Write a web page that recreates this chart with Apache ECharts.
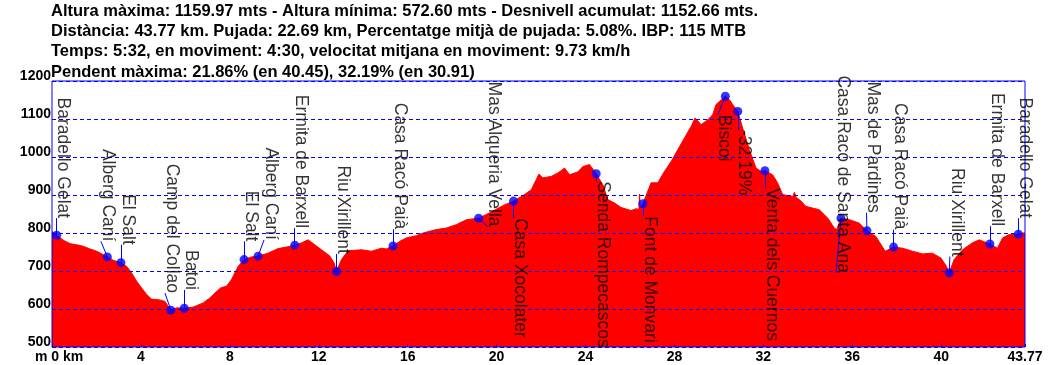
<!DOCTYPE html>
<html><head><meta charset="utf-8">
<script src="https://cdn.jsdelivr.net/npm/echarts@6/dist/echarts.min.js"></script>
<style>html,body{margin:0;padding:0;background:#fff}#c{width:1050px;height:365px}</style>
</head><body><div id="c"></div>
<script>
const headerLines = [
  "Altura màxima: 1159.97 mts - Altura mínima: 572.60 mts - Desnivell acumulat: 1152.66 mts.",
  "Distància: 43.77 km. Pujada: 22.69 km, Percentatge mitjà de pujada: 5.08%. IBP: 115 MTB",
  "Temps: 5:32, en moviment: 4:30, velocitat mitjana en moviment: 9.73 km/h",
  "Pendent màxima: 21.86% (en 40.45), 32.19% (en 30.91)"
];
const dist = [0,0.1,0.21,0.51,0.81,1.11,1.41,1.71,2.01,2.31,2.49,2.76,3.1,3.36,3.58,3.81,4.03,4.26,4.48,4.85,5.08,5.23,5.35,5.6,5.95,6.35,6.8,7.1,7.4,7.6,7.85,8.07,8.37,8.64,8.97,9.27,9.72,10.17,10.55,10.92,11.22,11.52,11.82,12.12,12.49,12.69,12.8,13.02,13.32,13.92,14.37,14.82,15.04,15.34,15.64,15.94,16.39,16.69,17.29,17.74,18.19,18.64,19.19,19.69,20.28,20.76,21.18,21.56,21.78,21.9,22.08,22.46,22.76,23.06,23.28,23.66,23.88,24.18,24.4,24.48,24.78,25.0,25.3,25.6,26.05,26.28,26.4,26.43,26.46,26.58,26.95,27.25,27.55,27.85,28.15,28.45,28.75,28.93,29.2,29.5,29.72,29.87,30.1,30.29,30.47,30.62,30.85,31.07,31.37,31.67,31.9,32.07,32.42,32.64,32.87,33.32,33.4,33.48,33.62,33.92,34.52,34.9,35.19,35.3,35.49,35.87,36.31,36.66,37.06,37.2,37.48,37.86,38.26,38.71,39.16,39.6,39.99,40.24,40.36,40.58,40.96,41.4,41.71,42.19,42.53,42.76,43.06,43.47,43.65,43.77];
const elev = [804,800,794,781,772,769,765,758,752,743,737,728,722,712,695,673,655,638,626,624,620,607,597,603,602,605,616,629,646,656,660,677,712,730,737,739,747,759,763,768,774,782,769,756,740,721,699,730,753,756,752,760,758,766,778,787,793,800,809,813,822,835,839,853,872,884,898,914,940,955,945,949,958,971,953,961,975,980,963,956,927,888,879,867,859,864,862,902,866,877,932,932,962,988,1019,1050,1080,1103,1085,1098,1111,1138,1150,1160,1151,1138,1120,1076,1019,971,962,964,953,932,901,896,907,893,888,870,861,839,813,809,839,835,826,806,791,778,752,763,760,752,745,747,734,712,695,730,756,774,782,771,760,787,796,797,800,800];
const xTicks = [0,4,8,12,16,20,24,28,32,36,40,43.77];
const wpNames = ["Baradello Gelat","Alberg Caní","El Salt","Camp del Collao","Batoi","El Salt","Alberg Caní","Ermita de Barxell","Riu Xirillent","Casa Racó Paià","Mas Alqueria Vella","Casa Xocolater","Senda Rompecascos","Font de Monvari","Biscoi","-32.19%","Venta dels Cuernos","Casa Racó de Santa Ana","Mas de Pardines","Casa Racó Paià","Riu Xirillent","Ermita de Barxell","Baradello Gelat"];
const wpKm = [0.21,2.49,3.1,5.35,5.95,8.64,9.27,10.92,12.8,15.34,19.19,20.76,24.48,26.58,30.29,30.85,32.07,35.49,36.66,37.86,40.36,42.19,43.47];
const wpElev = [794,737,722,597,602,730,739,768,699,766,839,884,956,877,1160,1120,964,839,806,763,695,771,797];
const leadKm = [0.21,2.2,3.1,5.08,5.95,8.64,9.54,10.92,12.8,15.34,19.6,20.76,24.48,26.58,29.95,30.85,32.07,35.27,36.64,37.86,40.39,42.19,43.47];
const leadElev = [839,778,769,642,650,778,782,813,745,810,817,839,936,844,1111,1071,918,695,853,809,738,818,839];
const labelDir = ['up','up','up','up','up','up','up','up','up','up','up','down','down','down','down','down','down','up','up','up','up','up','up'];

const FONT = '"Liberation Sans", Arial, sans-serif';
const BLUE = '#0000ff';
const chart = echarts.init(document.getElementById('c'), null, {renderer: 'canvas'});
chart.setOption({
  backgroundColor: '#ffffff',
  animation: false,
  title: {
    text: headerLines.join('\n'), left: 51, top: 1, padding: 0,
    textStyle: {fontFamily: FONT, fontSize: 16.5, fontWeight: 'bold', color: '#000', lineHeight: 20.3}
  },
  grid: {left: 52, right: 25, top: 81, bottom: 18, show: true, borderColor: BLUE, borderWidth: 1, backgroundColor: 'transparent'},
  xAxis: {
    type: 'value', min: 0, max: 43.77, interval: 4,
    axisLine: {show: false}, splitLine: {show: false},
    axisTick: {show: true, inside: true, length: 3, lineStyle: {color: BLUE}, customValues: xTicks},
    axisLabel: {
      customValues: xTicks, margin: 3, color: '#000', fontFamily: FONT, fontWeight: 'bold', fontSize: 14,
      formatter: v => v === 0 ? '{z|m 0 km}' : String(v),
      rich: {z: {fontFamily: FONT, fontWeight: 'bold', fontSize: 14, color: '#000', padding: [0, 0, 0, 14]}}
    }
  },
  yAxis: {
    type: 'value', min: 500, max: 1200, interval: 100,
    axisLine: {show: false}, axisTick: {show: false},
    splitLine: {show: true, lineStyle: {color: BLUE, type: [4, 3], width: 1}},
    axisLabel: {margin: 1, color: '#000', fontFamily: FONT, fontWeight: 'bold', fontSize: 14, verticalAlign: 'bottom', lineHeight: 10,
      formatter: v => String(v)}
  },
  series: [
    {
      type: 'line', z: -1, data: dist.map((d, i) => [d, elev[i]]),
      showSymbol: false, symbol: 'none', silent: true,
      lineStyle: {color: '#ff0000', width: 1},
      areaStyle: {color: '#ff0000', opacity: 1, origin: 'start'}
    },
    {
      type: 'lines', coordinateSystem: 'cartesian2d', z: 3, silent: true,
      data: wpKm.map((k, i) => ({coords: [[k, wpElev[i]], [leadKm[i], leadElev[i]]]})),
      lineStyle: {color: BLUE, width: 1, opacity: 1}
    },
    {
      type: 'scatter', z: 4, symbol: 'circle', symbolSize: 9, silent: true,
      data: wpKm.map((k, i) => [k, wpElev[i]]),
      itemStyle: {color: BLUE}
    },
    {
      type: 'scatter', z: 5, symbol: 'circle', symbolSize: 1, silent: true,
      itemStyle: {color: 'rgba(0,0,0,0)'},
      data: wpNames.map((n, i) => ({
        name: n, value: [leadKm[i], leadElev[i]],
        label: {align: labelDir[i] === 'up' ? 'right' : 'left'}
      })),
      label: {
        show: true, position: 'inside', rotate: -90, verticalAlign: 'bottom', lineHeight: 13,
        formatter: '{b}', fontFamily: FONT, fontSize: 17.5, color: '#000'
      }
    }
  ]
});
</script></body></html>
